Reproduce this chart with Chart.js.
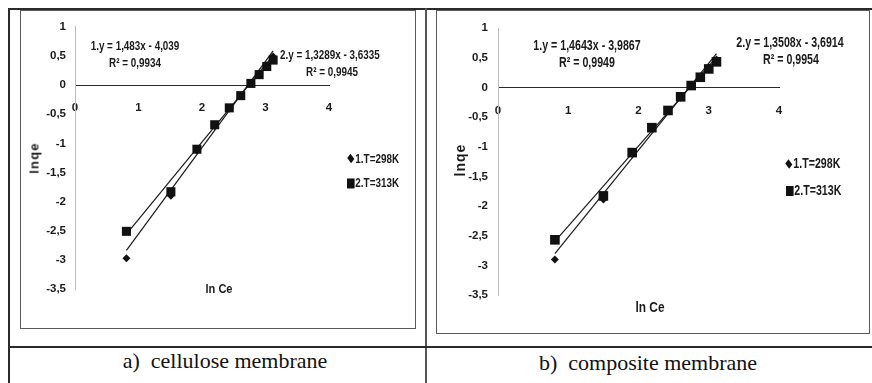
<!DOCTYPE html>
<html><head><meta charset="utf-8">
<script src="https://cdn.jsdelivr.net/npm/chart.js@4"></script>
<style>
html,body{margin:0;padding:0;background:#fff;}
body{width:872px;height:383px;position:relative;overflow:hidden;font-family:"Liberation Sans",Arial,sans-serif;color:#000;}
.ln{position:absolute;background:#2a2a2a;}
.box{position:absolute;border:1px solid #5a5a5a;box-sizing:border-box;}
.t{position:absolute;white-space:nowrap;line-height:1;font-weight:bold;color:#1a1a1a;transform:translate(-50%,-50%) scaleX(0.76);}
.tl{position:absolute;white-space:nowrap;line-height:1;font-weight:bold;color:#1a1a1a;transform-origin:0 50%;transform:translateY(-50%) scaleX(0.76);}
.cap{position:absolute;font-family:"Liberation Serif","Times New Roman",serif;font-size:22px;white-space:pre;line-height:1;transform:translate(-50%,-50%);color:#111;}
.dia{display:inline-block;width:6px;height:6px;background:#111;transform:rotate(45deg) scaleX(1.2);margin:0 3px 1px 2px;vertical-align:middle;}
.sq{display:inline-block;width:10px;height:10px;background:#111;margin:0 1px 1px 0;vertical-align:middle;}
canvas{position:absolute;}
</style></head><body>

<div class="ln" style="left:8px;top:8px;width:864px;height:2px;"></div>
<div class="ln" style="left:8px;top:8px;width:2px;height:375px;"></div>
<div class="ln" style="left:425px;top:8px;width:2px;height:375px;background:#555;"></div>
<div class="ln" style="left:8px;top:346px;width:864px;height:2px;"></div>

<div class="box" style="left:20px;top:10px;width:396px;height:319px;"></div>
<div class="box" style="left:436px;top:10px;width:434px;height:324px;"></div>

<div id="chartA" style="position:absolute;left:21px;top:11px;width:394px;height:317px;"><canvas id="ca"></canvas></div>
<div id="chartB" style="position:absolute;left:437px;top:11px;width:432px;height:322px;"><canvas id="cb"></canvas></div>

<!-- left annotations -->
<div class="t" style="left:135px;top:45px;font-size:13px;">1.y = 1,483x - 4,039</div>
<div class="t" style="left:135px;top:62px;font-size:13px;">R² = 0,9934</div>
<div class="tl" style="left:280px;top:54px;font-size:13px;">2.y = 1,3289x - 3,6335</div>
<div class="t" style="left:332px;top:71px;font-size:13px;">R² = 0,9945</div>
<div class="tl" style="left:347px;top:158px;font-size:13px;"><span class="dia"></span>1.T=298K</div>
<div class="tl" style="left:347px;top:183px;font-size:13px;"><span class="sq"></span>2.T=313K</div>
<div class="t" style="left:34px;top:158px;font-size:13px;letter-spacing:1.2px;transform:translate(-50%,-50%) rotate(-90deg);">lnqe</div>
<div class="t" style="left:219px;top:288px;font-size:13px;transform:translate(-50%,-50%) scaleX(0.85);">ln Ce</div>

<!-- right annotations -->
<div class="t" style="left:587px;top:45px;font-size:14px;">1.y = 1,4643x - 3,9867</div>
<div class="t" style="left:587px;top:62px;font-size:14px;">R² = 0,9949</div>
<div class="t" style="left:790px;top:42px;font-size:14px;">2.y = 1,3508x - 3,6914</div>
<div class="t" style="left:791px;top:59px;font-size:14px;">R² = 0,9954</div>
<div class="tl" style="left:785px;top:163px;font-size:14px;"><span class="dia"></span>1.T=298K</div>
<div class="tl" style="left:786px;top:190px;font-size:14px;"><span class="sq"></span>2.T=313K</div>
<div class="t" style="left:460px;top:160px;font-size:14px;letter-spacing:1px;transform:translate(-50%,-50%) rotate(-90deg);">lnqe</div>
<div class="t" style="left:650px;top:307px;font-size:14px;transform:translate(-50%,-50%) scaleX(0.85);">ln Ce</div>

<div class="cap" style="left:225px;top:361px;">a)  cellulose membrane</div>
<div class="cap" style="left:648px;top:363px;">b)  composite membrane</div>

<script>
// ---- data ----
const lnCeA = [0.81, 1.51, 1.92, 2.20, 2.43, 2.61, 2.77, 2.90, 3.02, 3.12];
const lnqeA298 = [-2.97, -1.90, -1.12, -0.70, -0.40, -0.18, 0.03, 0.19, 0.34, 0.49];
const lnqeA313 = [-2.51, -1.83, -1.10, -0.68, -0.39, -0.18, 0.03, 0.18, 0.32, 0.43];
const fitA298 = [1.483, -4.039];
const fitA313 = [1.3289, -3.6335];

const lnCeB = [0.81, 1.50, 1.91, 2.19, 2.42, 2.60, 2.75, 2.88, 3.00, 3.11];
const lnqeB298 = [-2.90, -1.89, -1.12, -0.70, -0.40, -0.17, 0.03, 0.18, 0.33, 0.47];
const lnqeB313 = [-2.57, -1.83, -1.10, -0.68, -0.39, -0.16, 0.03, 0.17, 0.31, 0.43];
const fitB298 = [1.4643, -3.9867];
const fitB313 = [1.3508, -3.6914];

const xTicks = [0, 1, 2, 3, 4];
const yTicks = [1, 0.5, 0, -0.5, -1, -1.5, -2, -2.5, -3, -3.5];
const seriesLabels = ['1.T=298K', '2.T=313K'];

const FONT = '"Liberation Sans",Arial,sans-serif';
const pts = (xs, ys) => xs.map((x, i) => ({x, y: ys[i]}));
const trend = (xs, fit) => {
  const a = Math.min(...xs), b = Math.max(...xs);
  return [{x: a, y: fit[0]*a + fit[1]}, {x: b, y: fit[0]*b + fit[1]}];
};
const fmt = v => String(v).replace('.', ',');

function makeChart(id, xs, y298, y313, f298, f313, o) {
  new Chart(document.getElementById(id), {
    type: 'scatter',
    data: {
      datasets: [
        {label: 'trend1', data: trend(xs, f298), showLine: true, borderColor: '#1a1a1a', borderWidth: 1.2, pointRadius: 0, order: 3},
        {label: 'trend2', data: trend(xs, f313), showLine: true, borderColor: '#1a1a1a', borderWidth: 1.2, pointRadius: 0, order: 2},
        {label: seriesLabels[0], data: pts(xs, y298), pointStyle: 'rectRot', pointRadius: o.dr, backgroundColor: '#111', borderColor: '#111', borderWidth: 0, showLine: false, order: 1},
        {label: seriesLabels[1], data: pts(xs, y313), pointStyle: 'rect', pointRadius: o.sr, backgroundColor: '#111', borderColor: '#111', borderWidth: 0, showLine: false, order: 0}
      ]
    },
    options: {
      responsive: true, maintainAspectRatio: false, animation: false,
      events: [],
      layout: {padding: {left: 0, right: o.pr, top: o.pt, bottom: o.pb}},
      plugins: {legend: {display: false}, tooltip: {enabled: false}},
      scales: {
        x: {
          type: 'linear', position: {y: 0}, min: 0, max: 4,
          afterBuildTicks: s => { s.ticks = xTicks.map(v => ({value: v})); },
          grid: {display: false, drawTicks: false},
          border: {display: true, color: '#2a2a2a', width: 1},
          ticks: {padding: o.xpad, color: '#1a1a1a', font: {family: FONT, size: o.fs, weight: 'bold'}, callback: fmt, maxRotation: 0}
        },
        y: {
          type: 'linear', position: 'left', min: -3.5, max: 1,
          afterBuildTicks: s => { s.ticks = yTicks.slice().reverse().map(v => ({value: v})); },
          afterFit: s => { s.width = o.yw; },
          grid: {display: false, drawTicks: false},
          border: {display: true, color: '#bdbdbd', width: 1},
          ticks: {padding: o.ypad, color: '#1a1a1a', font: {family: FONT, size: o.fs, weight: 'bold'}, callback: fmt}
        }
      }
    }
  });
}

makeChart('ca', lnCeA, lnqeA298, lnqeA313, fitA298, fitA313,
  {pr: 86, pt: 15, pb: 39, yw: 54, xpad: 16, ypad: 9, fs: 11.5, dr: 4, sr: 6.4});
makeChart('cb', lnCeB, lnqeB298, lnqeB313, fitB298, fitB313,
  {pr: 90, pt: 17, pb: 38, yw: 61, xpad: 17, ypad: 10, fs: 11.5, dr: 4, sr: 6.8});
</script>
</body></html>
